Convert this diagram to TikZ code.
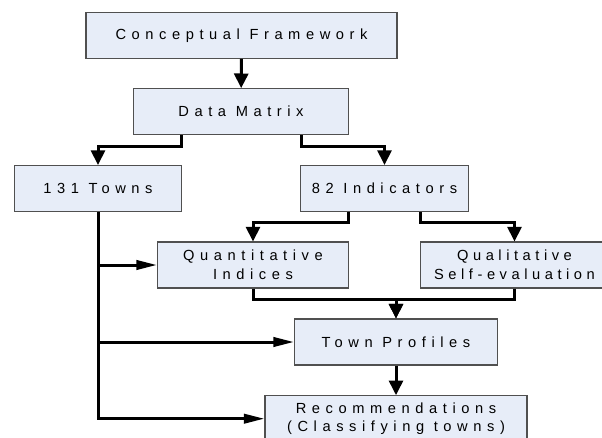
\documentclass[tikz,border=0pt]{standalone}
\usepackage{fontspec}
\newfontfamily\boxfont{Liberation Sans}[LetterSpace=38]
\definecolor{boxfill}{RGB}{231,237,248}
\definecolor{boxline}{RGB}{80,80,80}
\usetikzlibrary{arrows.meta}

\begin{document}
\begin{tikzpicture}[
    x=0.75pt, y=-0.75pt,
    stage/.style={
        draw=boxline,
        fill=boxfill,
        line width=0.8pt,
        minimum height=34.5pt,
        inner sep=0pt,
        font=\boxfont\fontsize{11}{14}\selectfont,
        align=center
      },
    tight/.style={font=\boxfont\addfontfeature{LetterSpace=31}\fontsize{11}{14}\selectfont},
    link/.style={line width=2.25pt},
    vflow/.style={link, -{Triangle[length=11pt,width=10.5pt]}},
    hflow/.style={link, -{Triangle[length=15.5pt,width=7pt]}}
  ]
    \useasboundingbox (0,0) rectangle (602,438);
    \clip (0,0) rectangle (602,438);

    \node[stage, minimum width=233.25pt] (frame) at (241.5,35.3) {Conceptual Framework};
    \node[stage, minimum width=161.25pt] (matrix) at (241,111.7) {Data Matrix};
    \node[stage, minimum width=125.25pt] (towns) at (98,188.5) {131 Towns};
    \node[stage, minimum width=126pt] (indicators) at (384.5,188.5) {82 Indicators};
    \node[stage, minimum width=143.25pt] (quant) at (253,265) {Quantitative\\Indices};
    \node[stage, tight, minimum width=141pt] (qual) at (514.5,265) {Qualitative\\Self-evaluation};
    \node[stage, minimum width=152.25pt] (profiles) at (396,342) {Town Profiles};
    \node[stage, minimum width=196.5pt] (recomm) at (396,418.7) {Recommendations\\(Classifying towns)};

    \draw[vflow] (frame) -- (matrix);
    \draw[vflow] ([xshift=-45pt]matrix.south) -- ++(0,11) -| (towns.north);
    \draw[vflow] ([xshift=45pt]matrix.south) -- ++(0,11) -| (indicators.north);
    \draw[vflow] ([xshift=-27pt]indicators.south) -- ++(0,10.6) -| (quant.north);
    \draw[vflow] ([xshift=27pt]indicators.south) -- ++(0,10.6) -| (qual.north);
    \draw[vflow] (quant.south) -- ++(0,11) -| (profiles.north);
    \draw[vflow] (qual.south) -- ++(0,11) -| (profiles.north);
    \draw[vflow] (profiles) -- (recomm);

    % towns feed every later stage
    \draw[hflow] (towns.south) |- (recomm.west);
    \draw[hflow] (towns.south |- quant.west) -- (quant.west);
    \draw[hflow] (towns.south |- profiles.west) -- (profiles.west);
  \end{tikzpicture}
\end{document}
